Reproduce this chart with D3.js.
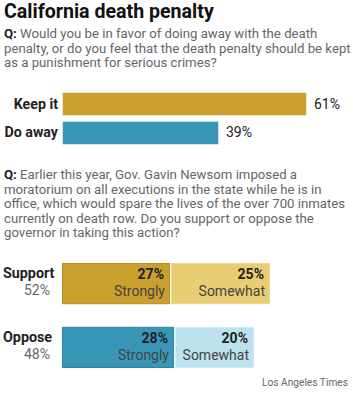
<!DOCTYPE html>
<html>
<head>
<meta charset="utf-8">
<script src="https://cdn.jsdelivr.net/npm/d3@7"></script>
<style>
  body { margin: 0; background: #fff; }
  svg { font-family: "Roboto", "Liberation Sans", sans-serif; }
</style>
</head>
<body>
<svg id="chart" width="353" height="400"></svg>
<script>
// question 1
var q1Lines = ['Would you be in favor of doing away with the death',
  'penalty, or do you feel that the death penalty should be kept',
  'as a punishment for serious crimes?'];
var q1Labels = ['Keep it', 'Do away'];
var q1Values = [61, 39];
var q1Colors = ['#c9a02e', '#3a96b7'];

// question 2
var q2Lines = ['Earlier this year, Gov. Gavin Newsom imposed a',
  'moratorium on all executions in the state while he is in',
  'office, which would spare the lives of the over 700 inmates',
  'currently on death row. Do you support or oppose the',
  'governor in taking this action?'];
var q2Groups = ['Support', 'Oppose'];
var q2Totals = [52, 48];
var q2Parts = ['Strongly', 'Somewhat'];
var q2Values = [[27, 25], [28, 20]];
var q2Colors = [['#c9a02e', '#e8cd73'], ['#3a96b7', '#bde2ef']];
var q2Strokes = [['#b8901f', '#efd98f'], ['#2b86a6', '#cfeaf4']];

var svg = d3.select('#chart');
var x = d3.scaleLinear().domain([0, 100]).range([0, 400]);
var left = 62;

svg.append('text')
  .attr('x', 4).attr('y', 18)
  .attr('font-size', 19.6).attr('font-weight', 'bold').attr('fill', '#111')
  .text('California death penalty');

function question(lines, y0) {
  var t = svg.append('text').attr('font-size', 13.2).attr('fill', '#666');
  lines.forEach(function(line, i) {
    var ts = t.append('tspan').attr('x', 4).attr('y', y0 + i * 14.5);
    if (i === 0) {
      ts.append('tspan').attr('font-weight', 'bold').attr('fill', '#222').text('Q: ');
      ts.append('tspan').text(line);
    } else {
      ts.text(line);
    }
  });
}

question(q1Lines, 38);

// simple bars
var y1 = d3.scaleBand().domain(q1Labels).range([92, 144]).paddingInner(0.2);

var row1 = svg.append('g').selectAll('g')
  .data(q1Labels)
  .join('g');

row1.append('rect')
  .attr('x', left + 0.5)
  .attr('y', function(d) { return y1(d) + 0.5; })
  .attr('width', function(d, i) { return x(q1Values[i]); })
  .attr('height', y1.bandwidth())
  .attr('fill', function(d, i) { return q1Colors[i]; })
  .attr('stroke', '#fff').attr('stroke-opacity', 0.5);

row1.append('text')
  .attr('x', left - 4)
  .attr('y', function(d) { return y1(d) + y1.bandwidth() / 2 + 5; })
  .attr('text-anchor', 'end').attr('font-size', 14.2).attr('font-weight', 'bold').attr('fill', '#222')
  .text(function(d) { return d; });

row1.append('text')
  .attr('x', function(d, i) { return left + x(q1Values[i]) + 8; })
  .attr('y', function(d) { return y1(d) + y1.bandwidth() / 2 + 5; })
  .attr('font-size', 14).attr('fill', '#222')
  .text(function(d, i) { return q1Values[i] + '%'; });

question(q2Lines, 179);

// stacked bars
var y2 = d3.scaleBand().domain(q2Groups).range([263, 367]).paddingInner(0.37);

q2Groups.forEach(function(g, gi) {
  var top = y2(g);
  var h = y2.bandwidth();
  var g2 = svg.append('g');

  g2.append('text')
    .attr('x', 3).attr('y', top + 15)
    .attr('font-size', 14.3).attr('font-weight', 'bold').attr('fill', '#222')
    .text(g);
  g2.append('text')
    .attr('x', 50).attr('y', top + 32)
    .attr('text-anchor', 'end').attr('font-size', 14).attr('fill', '#666')
    .text(q2Totals[gi] + '%');

  var cum = 0;
  var segs = q2Values[gi].map(function(v, i) {
    var s = { start: cum, value: v, part: q2Parts[i], i: i };
    cum += v;
    return s;
  });

  var seg = g2.selectAll('g.seg')
    .data(segs)
    .join('g')
    .attr('class', 'seg');

  seg.append('rect')
    .attr('x', function(d) { return left + x(d.start) + 0.5 + (d.i ? 1 : 0); })
    .attr('y', top + 0.5)
    .attr('width', function(d) { return x(d.value) - 1 - (d.i ? 1 : 0); })
    .attr('height', h)
    .attr('fill', function(d) { return q2Colors[gi][d.i]; })
    .attr('stroke', function(d) { return q2Strokes[gi][d.i]; });

  seg.append('text')
    .attr('x', function(d) { return left + x(d.start + d.value) - 6; })
    .attr('y', top + 16)
    .attr('text-anchor', 'end').attr('font-size', 14).attr('font-weight', 'bold').attr('fill', '#222')
    .text(function(d) { return d.value + '%'; });

  seg.append('text')
    .attr('x', function(d) { return left + x(d.start + d.value) - 5; })
    .attr('y', top + 33)
    .attr('text-anchor', 'end').attr('font-size', 14).attr('fill', '#444')
    .text(function(d) { return d.part; });
});

svg.append('text')
  .attr('x', 348).attr('y', 386)
  .attr('text-anchor', 'end').attr('font-size', 10.2).attr('fill', '#666')
  .text('Los Angeles Times');
</script>
</body>
</html>
